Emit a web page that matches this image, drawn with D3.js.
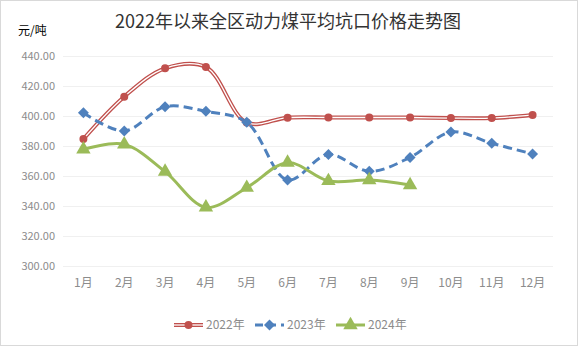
<!DOCTYPE html>
<html><head><meta charset="utf-8">
<script src="https://cdn.jsdelivr.net/npm/d3@7"></script>
<style>body{margin:0;background:#fff}svg{display:block}</style>
</head><body><svg id="c" width="581" height="347"></svg>
<script>
const categories = ["1月","2月","3月","4月","5月","6月","7月","8月","9月","10月","11月","12月"];
const series2022 = [384.7,412.9,431.8,432.6,395.6,398.9,399.0,399.0,399.0,398.6,398.6,400.7];
const series2023 = [402.2,390.0,406.2,403.1,395.8,357.3,374.4,363.1,372.4,389.3,381.8,374.7];
const series2024 = [377.8,381.1,362.9,339.1,352.2,368.9,356.7,357.3,354.0];
const yTicks = [300,320,340,360,380,400,420,440];
const seriesNames = ["2022年","2023年","2024年"];

const svg = d3.select("#c");
const font = "'Microsoft YaHei','Noto Sans CJK SC','Noto Sans',sans-serif";
svg.append("rect").attr("x",0.5).attr("y",0.5).attr("width",577).attr("height",345)
  .attr("fill","#fff").attr("stroke","#d9d9d9");

const x = d3.scaleBand().domain(categories).range([63,553]);
const y = d3.scaleLinear().domain([300,440]).range([266,56]);
const cx = d => x(d) + x.bandwidth()/2;

svg.append("g").selectAll("line").data(yTicks).join("line")
  .attr("x1",63).attr("x2",553).attr("y1",d=>y(d)+0.5).attr("y2",d=>y(d)+0.5)
  .attr("stroke","#f0f0f0").attr("stroke-width",1);

svg.append("g").selectAll("text").data(yTicks).join("text")
  .attr("x",55).attr("y",d=>y(d)+4).attr("text-anchor","end")
  .attr("font-family",font).attr("font-size",11).attr("fill","#8c8c8c")
  .text(d=>d3.format(".2f")(d));

svg.append("g").selectAll("text").data(categories).join("text")
  .attr("x",d=>cx(d)).attr("y",287).attr("text-anchor","middle")
  .attr("font-family",font).attr("font-size",12).attr("fill","#8c8c8c")
  .text(d=>d);

svg.append("text").attr("x",288).attr("y",28).attr("text-anchor","middle")
  .attr("font-family","'Noto Sans CJK SC',sans-serif").attr("font-size",18).attr("fill","#333")
  .text("2022年以来全区动力煤平均坑口价格走势图");
svg.append("text").attr("x",18).attr("y",35)
  .attr("font-family",font).attr("font-size",12).attr("fill","#000").text("元/吨");

const curve = d3.curveCatmullRom.alpha(0.5);
const line = d3.line().x((d,i)=>cx(categories[i])).y(d=>y(d)).curve(curve);

// 2022 compound line
svg.append("path").attr("d",line(series2022)).attr("fill","none").attr("stroke","#C0504D").attr("stroke-width",4);
svg.append("path").attr("d",line(series2022)).attr("fill","none").attr("stroke","#fff").attr("stroke-width",1.3);
// 2023 dashed
svg.append("path").attr("d",line(series2023)).attr("fill","none").attr("stroke","#4F81BD").attr("stroke-width",3).attr("stroke-dasharray","9,5");
// 2024
svg.append("path").attr("d",line(series2024)).attr("fill","none").attr("stroke","#9BBB59").attr("stroke-width",3);

const circ = d3.symbol().type(d3.symbolCircle).size(50);
const diam = d3.symbol().type(d3.symbolSquare).size(60);
const tri = d3.symbol().type(d3.symbolTriangle).size(90);

svg.append("g").selectAll("path").data(series2022).join("path")
  .attr("d",circ).attr("transform",(d,i)=>`translate(${cx(categories[i])},${y(d)})`).attr("fill","#C0504D");
svg.append("g").selectAll("path").data(series2023).join("path")
  .attr("d",diam).attr("transform",(d,i)=>`translate(${cx(categories[i])},${y(d)}) rotate(45)`).attr("fill","#4F81BD");
svg.append("g").selectAll("path").data(series2024).join("path")
  .attr("d",tri).attr("transform",(d,i)=>`translate(${cx(categories[i])},${y(d)})`).attr("fill","#9BBB59");

// legend
const legX = [174,255,336];
const ly = 325;
const lg = svg.append("g");
lg.append("line").attr("x1",legX[0]).attr("x2",legX[0]+29).attr("y1",ly).attr("y2",ly).attr("stroke","#C0504D").attr("stroke-width",4);
lg.append("line").attr("x1",legX[0]).attr("x2",legX[0]+29).attr("y1",ly).attr("y2",ly).attr("stroke","#fff").attr("stroke-width",1.3);
lg.append("path").attr("d",circ).attr("transform",`translate(${legX[0]+14.5},${ly})`).attr("fill","#C0504D");
lg.append("line").attr("x1",legX[1]).attr("x2",legX[1]+29).attr("y1",ly).attr("y2",ly).attr("stroke","#4F81BD").attr("stroke-width",3).attr("stroke-dasharray","8,5");
lg.append("path").attr("d",diam).attr("transform",`translate(${legX[1]+14.5},${ly}) rotate(45)`).attr("fill","#4F81BD");
lg.append("line").attr("x1",legX[2]).attr("x2",legX[2]+29).attr("y1",ly).attr("y2",ly).attr("stroke","#9BBB59").attr("stroke-width",3);
lg.append("path").attr("d",tri).attr("transform",`translate(${legX[2]+14.5},${ly})`).attr("fill","#9BBB59");
lg.selectAll("text").data(seriesNames).join("text")
  .attr("x",(d,i)=>legX[i]+32).attr("y",ly+4)
  .attr("font-family",font).attr("font-size",12).attr("fill","#8c8c8c").text(d=>d);
</script></body></html>
